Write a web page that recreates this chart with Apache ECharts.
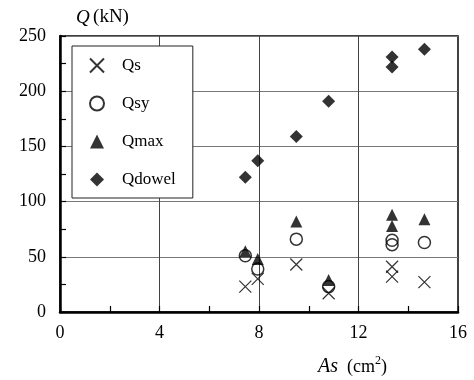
<!DOCTYPE html>
<html>
<head>
<meta charset="utf-8">
<script src="https://cdn.jsdelivr.net/npm/echarts@6/dist/echarts.min.js"></script>
<style>
  html, body { margin: 0; padding: 0; background: #fff; }
  #chart { width: 474px; height: 380px; }
</style>
</head>
<body>
<div id="chart"></div>
<script>
// steel area As (cm2) per specimen
const asValues = [7.45, 7.95, 9.5, 10.8, 13.35, 13.35, 14.65]
const qs = [23, 30, 43, 17, 41, 32, 27]
const qsy = [51, 39, 66, 23, 65, 61, 63]
const qmax = [55, 48, 82, 29, 88, 78, 84]
const qdowel = [122, 137, 159, 191, 231, 222, 238]

const font = '"Liberation Serif", "Times New Roman", serif'
const pairs = (ys) => asValues.map((x, i) => [x, ys[i]])

const chart = echarts.init(document.getElementById('chart'))

const axisCommon = {
  axisLine: { show: true, lineStyle: { color: '#000', width: 2.5 } },
  axisTick: { show: true, inside: true, length: 6, lineStyle: { color: '#000', width: 1.2 } },
  minorTick: { show: true, splitNumber: 2, length: 6, lineStyle: { color: '#000', width: 1.2 } },
  axisLabel: { color: '#000', fontFamily: font, fontSize: 18 }
}

chart.setOption({
  backgroundColor: '#fff',
  animation: false,
  grid: {
    left: 60,
    right: 16,
    top: 36,
    bottom: 68,
    show: true,
    borderColor: '#000',
    borderWidth: 1.5
  },
  xAxis: {
    type: 'value',
    min: 0,
    max: 16,
    interval: 4,
    ...axisCommon,
    axisLabel: { ...axisCommon.axisLabel, margin: 12 },
    splitLine: { show: true, lineStyle: { color: '#444', width: 1 } }
  },
  yAxis: {
    type: 'value',
    min: 0,
    max: 250,
    interval: 50,
    ...axisCommon,
    axisLabel: { ...axisCommon.axisLabel, margin: 14 },
    splitLine: { show: true, lineStyle: { color: '#777', width: 1 } }
  },
  legend: {
    orient: 'vertical',
    left: 72,
    top: 46,
    padding: [11, 17, 10, 17],
    itemGap: 21,
    itemWidth: 14,
    itemHeight: 14,
    backgroundColor: '#fff',
    borderColor: '#222',
    borderWidth: 1,
    textStyle: { fontFamily: font, fontSize: 17, color: '#000', padding: [0, 0, 0, 13] },
    data: ['Qs', 'Qsy', 'Qmax', 'Qdowel']
  },
  graphic: [
    {
      type: 'text',
      left: 76,
      top: 8,
      style: {
        text: '{i|Q} {n|(kN)}',
        fill: '#000',
        rich: {
          i: { fontStyle: 'italic', fontFamily: font, fontSize: 19 },
          n: { fontFamily: font, fontSize: 19 }
        }
      }
    },
    {
      type: 'text',
      left: 318,
      top: 355,
      style: {
        text: '{i|As}{n|(cm}{s|2}{n|)}',
        fill: '#000',
        rich: {
          i: { fontStyle: 'italic', fontFamily: font, fontSize: 20, lineHeight: 24, padding: [0, 9, 0, 0] },
          n: { fontFamily: font, fontSize: 18, lineHeight: 24 },
          s: { fontFamily: font, fontSize: 12, lineHeight: 12, verticalAlign: 'top' }
        }
      }
    }
  ],
  series: [
    {
      name: 'Qs',
      type: 'scatter',
      symbol: 'path://M0,0L10,10M10,0L0,10',
      symbolSize: 12,
      itemStyle: { color: 'rgba(0,0,0,0)', borderColor: '#000', borderWidth: 1.2 },
      data: pairs(qs)
    },
    {
      name: 'Qsy',
      type: 'scatter',
      symbol: 'circle',
      symbolSize: 12,
      itemStyle: { color: 'rgba(0,0,0,0)', borderColor: '#000', borderWidth: 1.5 },
      data: pairs(qsy)
    },
    {
      name: 'Qmax',
      type: 'scatter',
      symbol: 'triangle',
      symbolSize: [12, 12],
      itemStyle: { color: '#000' },
      data: pairs(qmax)
    },
    {
      name: 'Qdowel',
      type: 'scatter',
      symbol: 'diamond',
      symbolSize: [13, 13],
      itemStyle: { color: '#000' },
      data: pairs(qdowel)
    }
  ]
})
</script>
</body>
</html>
